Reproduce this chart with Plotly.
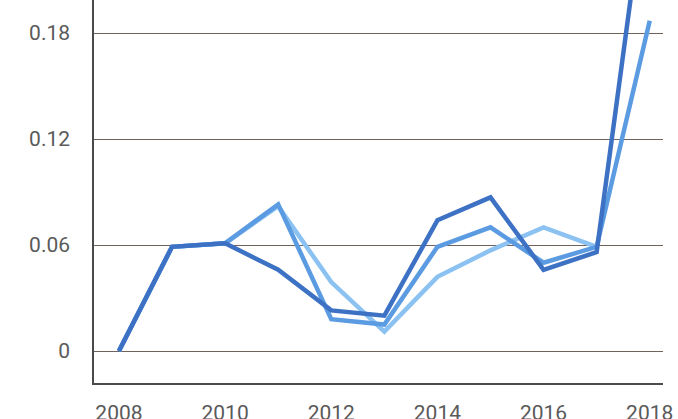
import plotly.graph_objects as go

years = [2008, 2009, 2010, 2011, 2012, 2013, 2014, 2015, 2016, 2017, 2018]
series_dark = [0.0, 0.059, 0.061, 0.046, 0.023, 0.020, 0.074, 0.087, 0.046, 0.056, 0.28]
series_medium = [0.0, 0.059, 0.061, 0.083, 0.018, 0.015, 0.059, 0.070, 0.050, 0.059, 0.187]
series_light = [0.0, 0.059, 0.061, 0.082, 0.039, 0.011, 0.042, 0.057, 0.070, 0.059, None]

y_ticks = [0, 0.06, 0.12, 0.18]
y_tick_labels = ["0", "0.06", "0.12", "0.18"]
x_ticks = [2008, 2010, 2012, 2014, 2016, 2018]

fig = go.Figure()
fig.add_trace(go.Scatter(x=years, y=series_light, mode="lines",
                         line=dict(color="#8cc2f2", width=4.5), showlegend=False))
fig.add_trace(go.Scatter(x=years, y=series_medium, mode="lines",
                         line=dict(color="#5b9be2", width=4.5), showlegend=False))
fig.add_trace(go.Scatter(x=years, y=series_dark, mode="lines",
                         line=dict(color="#3c71c4", width=4.5), showlegend=False))

fig.update_layout(
    width=678, height=419,
    margin=dict(l=94, r=15, t=0, b=36),
    paper_bgcolor="white", plot_bgcolor="white",
    font=dict(family="Roboto", size=21, color="#5a5a5a"),
    xaxis=dict(range=[2007.53, 2018.25], tickvals=x_ticks, automargin=False,
               showgrid=False, zeroline=False,
               showline=True, linecolor="#4a4a4a", linewidth=1.5, mirror=False,
               ticks="outside", ticklen=10, tickcolor="rgba(0,0,0,0)"),
    yaxis=dict(range=[-0.0181, 0.1987], tickvals=y_ticks, ticktext=y_tick_labels,
               automargin=False,
               showgrid=True, gridcolor="#6e625a", gridwidth=1,
               zeroline=False,
               showline=True, linecolor="#4a4a4a", linewidth=1.5,
               ticks="outside", ticklen=18, tickcolor="rgba(0,0,0,0)"),
)

fig.write_html("out.html", config={"displayModeBar": False},
               post_script="document.body.style.margin='0';document.body.style.overflow='hidden';")
